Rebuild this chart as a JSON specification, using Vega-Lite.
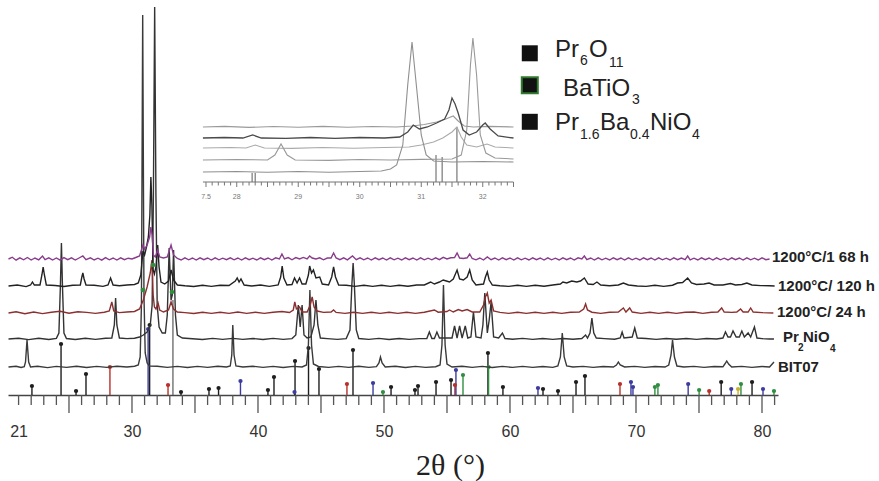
{
"$schema": "https://vega.github.io/schema/vega-lite/v6.json",
"width": 770, "height": 395, "autosize": "none",
"padding": {"left": 8, "right": 101, "top": 0, "bottom": 86},
"background": "white",
"config": {"view": {"stroke": null}},
"datasets": {
"major": [{"x":25},{"x":30},{"x":35},{"x":40},{"x":45},{"x":50},{"x":55},{"x":60},{"x":65},{"x":70},{"x":75},{"x":80}],
"minor": [{"x":21},{"x":22},{"x":23},{"x":24},{"x":26},{"x":27},{"x":28},{"x":29},{"x":31},{"x":32},{"x":33},{"x":34},{"x":36},{"x":37},{"x":38},{"x":39},{"x":41},{"x":42},{"x":43},{"x":44},{"x":46},{"x":47},{"x":48},{"x":49},{"x":51},{"x":52},{"x":53},{"x":54},{"x":56},{"x":57},{"x":58},{"x":59},{"x":61},{"x":62},{"x":63},{"x":64},{"x":66},{"x":67},{"x":68},{"x":69},{"x":71},{"x":72},{"x":73},{"x":74},{"x":76},{"x":77},{"x":78},{"x":79},{"x":81}],
"bit": [{"x":20.2,"y":28},{"x":20.8,"y":28.7},{"x":21.2,"y":27.5},{"x":21.45,"y":28.3},{"x":21.55,"y":33},{"x":21.67,"y":55},{"x":21.8,"y":33},{"x":21.95,"y":28},{"x":22.5,"y":28.8},{"x":23.3,"y":27.4},{"x":24.0,"y":28.6},{"x":24.8,"y":27.6},{"x":25.6,"y":28.7},{"x":26.4,"y":27.5},{"x":27.2,"y":28.6},{"x":28.0,"y":27.6},{"x":28.8,"y":28.7},{"x":29.6,"y":28},{"x":30.2,"y":28.8},{"x":30.5,"y":30},{"x":30.65,"y":38},{"x":30.75,"y":90},{"x":30.85,"y":380},{"x":30.95,"y":100},{"x":31.05,"y":42},{"x":31.2,"y":32},{"x":31.4,"y":29},{"x":32.0,"y":28.7},{"x":32.8,"y":27.6},{"x":33.6,"y":28.6},{"x":34.4,"y":27.5},{"x":35.2,"y":28.6},{"x":36.0,"y":27.6},{"x":36.8,"y":28.7},{"x":37.5,"y":28},{"x":37.8,"y":29},{"x":37.92,"y":40},{"x":38.0,"y":70},{"x":38.1,"y":40},{"x":38.25,"y":29},{"x":38.8,"y":28},{"x":39.6,"y":28.7},{"x":40.4,"y":27.6},{"x":41.2,"y":28.6},{"x":42.0,"y":27.5},{"x":42.8,"y":28.6},{"x":43.5,"y":28},{"x":43.85,"y":30},{"x":44.0,"y":50},{"x":44.12,"y":105},{"x":44.25,"y":50},{"x":44.4,"y":31},{"x":44.8,"y":28.5},{"x":45.6,"y":27.6},{"x":46.4,"y":28.6},{"x":47.2,"y":27.6},{"x":48.0,"y":28.7},{"x":48.8,"y":27.6},{"x":49.4,"y":28.3},{"x":49.6,"y":32},{"x":49.72,"y":38},{"x":49.85,"y":32},{"x":50.1,"y":28},{"x":50.9,"y":28.7},{"x":51.7,"y":27.5},{"x":52.5,"y":28.6},{"x":53.3,"y":27.6},{"x":54.1,"y":28.3},{"x":54.45,"y":30},{"x":54.6,"y":50},{"x":54.72,"y":110},{"x":54.85,"y":50},{"x":55.0,"y":31},{"x":55.4,"y":28},{"x":56.2,"y":28.7},{"x":57.0,"y":27.6},{"x":57.8,"y":28.6},{"x":58.6,"y":27.5},{"x":59.4,"y":28.6},{"x":60.2,"y":27.6},{"x":61.0,"y":28.6},{"x":61.8,"y":27.6},{"x":62.6,"y":28.5},{"x":63.4,"y":27.6},{"x":63.8,"y":29},{"x":64.0,"y":38},{"x":64.15,"y":62},{"x":64.3,"y":38},{"x":64.5,"y":29},{"x":65.0,"y":28},{"x":65.8,"y":28.6},{"x":66.6,"y":27.6},{"x":67.4,"y":28.5},{"x":68.2,"y":28},{"x":68.45,"y":30},{"x":68.6,"y":33},{"x":68.75,"y":30},{"x":69.1,"y":28},{"x":69.9,"y":28.6},{"x":70.7,"y":27.6},{"x":71.5,"y":28.5},{"x":72.3,"y":28},{"x":72.6,"y":30},{"x":72.78,"y":40},{"x":72.9,"y":55},{"x":73.05,"y":38},{"x":73.25,"y":29},{"x":73.8,"y":28},{"x":74.6,"y":28.6},{"x":75.4,"y":27.6},{"x":76.2,"y":28.5},{"x":76.9,"y":28.2},{"x":77.05,"y":31},{"x":77.2,"y":34},{"x":77.35,"y":31},{"x":77.6,"y":28},{"x":78.4,"y":28.6},{"x":79.2,"y":27.6},{"x":80.0,"y":28.5},{"x":80.6,"y":28},{"x":80.95,"y":33}],
"pno": [{"x":20.2,"y":56},{"x":21.0,"y":56.8},{"x":21.8,"y":55.4},{"x":22.6,"y":56.7},{"x":23.4,"y":55.5},{"x":24.0,"y":56.6},{"x":24.2,"y":62},{"x":24.32,"y":110},{"x":24.4,"y":152},{"x":24.48,"y":110},{"x":24.6,"y":62},{"x":24.8,"y":56.5},{"x":25.5,"y":55.5},{"x":26.3,"y":56.7},{"x":27.1,"y":55.6},{"x":27.9,"y":56.7},{"x":28.4,"y":57},{"x":28.6,"y":70},{"x":28.7,"y":97},{"x":28.8,"y":70},{"x":29.0,"y":57},{"x":29.6,"y":56.4},{"x":30.2,"y":56.8},{"x":30.6,"y":58},{"x":30.9,"y":60},{"x":31.2,"y":63},{"x":31.45,"y":70},{"x":31.6,"y":90},{"x":31.7,"y":200},{"x":31.8,"y":388},{"x":31.9,"y":200},{"x":32.0,"y":90},{"x":32.15,"y":68},{"x":32.4,"y":62},{"x":32.65,"y":62},{"x":32.8,"y":80},{"x":32.95,"y":147},{"x":33.1,"y":95},{"x":33.2,"y":100},{"x":33.3,"y":145},{"x":33.45,"y":80},{"x":33.6,"y":60},{"x":34.0,"y":57},{"x":34.8,"y":56.3},{"x":35.6,"y":55.5},{"x":36.4,"y":56.6},{"x":37.2,"y":55.6},{"x":38.0,"y":56.6},{"x":38.8,"y":55.6},{"x":39.6,"y":56.5},{"x":40.4,"y":55.5},{"x":41.2,"y":56.6},{"x":42.0,"y":55.6},{"x":42.7,"y":56.4},{"x":43.0,"y":60},{"x":43.2,"y":90},{"x":43.35,"y":68},{"x":43.5,"y":90},{"x":43.65,"y":60},{"x":43.9,"y":57},{"x":44.2,"y":58},{"x":44.45,"y":70},{"x":44.6,"y":95},{"x":44.75,"y":70},{"x":44.95,"y":57},{"x":45.5,"y":56.4},{"x":46.3,"y":55.6},{"x":47.0,"y":56.4},{"x":47.3,"y":65},{"x":47.45,"y":110},{"x":47.55,"y":132},{"x":47.65,"y":110},{"x":47.8,"y":65},{"x":48.0,"y":56.5},{"x":48.8,"y":55.6},{"x":49.6,"y":56.6},{"x":50.4,"y":55.5},{"x":51.2,"y":56.5},{"x":52.0,"y":55.6},{"x":52.8,"y":56.4},{"x":53.4,"y":56.5},{"x":53.6,"y":63},{"x":53.8,"y":56.5},{"x":54.0,"y":56.5},{"x":54.2,"y":63},{"x":54.4,"y":57},{"x":55.4,"y":57},{"x":55.6,"y":69},{"x":55.8,"y":57},{"x":56.0,"y":69},{"x":56.2,"y":57},{"x":56.45,"y":69},{"x":56.65,"y":57},{"x":56.9,"y":58},{"x":57.1,"y":83},{"x":57.3,"y":58},{"x":57.7,"y":57},{"x":57.85,"y":70},{"x":58.0,"y":102},{"x":58.2,"y":62},{"x":58.35,"y":75},{"x":58.5,"y":93},{"x":58.7,"y":58},{"x":59.1,"y":57},{"x":59.4,"y":62},{"x":59.6,"y":56.5},{"x":60.2,"y":55.7},{"x":61.0,"y":56.6},{"x":61.8,"y":55.6},{"x":62.6,"y":56.5},{"x":63.4,"y":55.6},{"x":64.2,"y":56.5},{"x":65.0,"y":55.7},{"x":65.7,"y":56.5},{"x":66.0,"y":60},{"x":66.15,"y":57},{"x":66.35,"y":62},{"x":66.5,"y":77},{"x":66.65,"y":62},{"x":66.85,"y":57},{"x":67.5,"y":56.4},{"x":68.3,"y":55.7},{"x":68.75,"y":57},{"x":68.9,"y":63},{"x":69.05,"y":57},{"x":69.7,"y":58},{"x":69.9,"y":67},{"x":70.1,"y":57},{"x":70.8,"y":56.5},{"x":71.6,"y":55.6},{"x":72.4,"y":56.5},{"x":73.2,"y":55.7},{"x":74.0,"y":56.5},{"x":74.8,"y":55.6},{"x":75.6,"y":56.5},{"x":76.4,"y":56},{"x":76.9,"y":57},{"x":77.1,"y":63},{"x":77.3,"y":58},{"x":77.5,"y":58},{"x":77.7,"y":64},{"x":77.95,"y":58},{"x":78.2,"y":58},{"x":78.4,"y":64},{"x":78.6,"y":58},{"x":78.9,"y":62},{"x":79.1,"y":58},{"x":79.4,"y":68},{"x":79.6,"y":57},{"x":80.0,"y":56.4},{"x":80.6,"y":56},{"x":80.95,"y":56}],
"t24": [{"x":20.2,"y":82},{"x":20.8,"y":83.2},{"x":21.5,"y":81.3},{"x":22.2,"y":83},{"x":22.9,"y":81.4},{"x":23.6,"y":82.8},{"x":24.3,"y":83.8},{"x":25.0,"y":81.8},{"x":25.7,"y":83.2},{"x":26.4,"y":82.6},{"x":27.1,"y":81.6},{"x":27.8,"y":82.8},{"x":28.2,"y":84},{"x":28.4,"y":93},{"x":28.55,"y":84},{"x":29.0,"y":82.4},{"x":29.6,"y":83},{"x":30.2,"y":83.5},{"x":30.6,"y":86},{"x":30.9,"y":95},{"x":31.2,"y":108},{"x":31.45,"y":122},{"x":31.58,"y":135},{"x":31.68,"y":100},{"x":31.78,"y":88},{"x":31.9,"y":86},{"x":32.07,"y":92},{"x":32.2,"y":85},{"x":32.5,"y":83},{"x":32.9,"y":85},{"x":33.1,"y":93},{"x":33.3,"y":86},{"x":33.6,"y":83},{"x":34.2,"y":82.4},{"x":34.9,"y":81.5},{"x":35.6,"y":82.8},{"x":36.3,"y":81.6},{"x":37.0,"y":82.8},{"x":37.7,"y":81.6},{"x":38.4,"y":83},{"x":39.1,"y":81.6},{"x":39.8,"y":82.8},{"x":40.5,"y":81.6},{"x":41.2,"y":82.8},{"x":41.9,"y":83.5},{"x":42.5,"y":82.5},{"x":42.8,"y":85},{"x":42.92,"y":93},{"x":43.05,"y":86},{"x":43.3,"y":88},{"x":43.5,"y":83},{"x":43.9,"y":83},{"x":44.15,"y":90},{"x":44.3,"y":98},{"x":44.45,"y":88},{"x":44.7,"y":84},{"x":45.2,"y":82.6},{"x":45.8,"y":83},{"x":46.0,"y":85},{"x":46.2,"y":82.6},{"x":46.9,"y":81.6},{"x":47.6,"y":82.8},{"x":48.3,"y":81.6},{"x":49.0,"y":82.8},{"x":49.7,"y":81.6},{"x":50.4,"y":82.8},{"x":51.1,"y":81.6},{"x":51.8,"y":82.8},{"x":52.5,"y":81.6},{"x":53.2,"y":82.8},{"x":54.0,"y":85},{"x":54.3,"y":82.8},{"x":55.0,"y":83.5},{"x":55.2,"y":85},{"x":55.5,"y":83},{"x":55.9,"y":85.5},{"x":56.2,"y":84},{"x":56.6,"y":85.5},{"x":57.0,"y":83},{"x":57.6,"y":83},{"x":57.9,"y":90},{"x":58.05,"y":98},{"x":58.2,"y":102},{"x":58.35,"y":92},{"x":58.5,"y":95},{"x":58.7,"y":84},{"x":59.2,"y":82.6},{"x":59.9,"y":81.6},{"x":60.6,"y":82.8},{"x":61.3,"y":81.6},{"x":62.0,"y":82.8},{"x":62.7,"y":81.6},{"x":63.4,"y":82.8},{"x":64.1,"y":81.6},{"x":64.8,"y":82.8},{"x":65.5,"y":83},{"x":65.85,"y":86},{"x":66.0,"y":91},{"x":66.15,"y":85},{"x":66.5,"y":82.8},{"x":67.2,"y":81.6},{"x":67.9,"y":82.8},{"x":68.6,"y":83},{"x":69.0,"y":87},{"x":69.2,"y":83},{"x":69.5,"y":87},{"x":69.7,"y":83},{"x":70.4,"y":81.6},{"x":71.1,"y":82.8},{"x":71.8,"y":81.6},{"x":72.5,"y":82.8},{"x":73.2,"y":81.6},{"x":73.9,"y":82.8},{"x":74.6,"y":83},{"x":75.3,"y":81.6},{"x":76.0,"y":82.8},{"x":76.5,"y":83},{"x":76.8,"y":87},{"x":77.0,"y":83},{"x":77.6,"y":82.6},{"x":78.0,"y":83},{"x":78.3,"y":86},{"x":78.5,"y":83},{"x":78.9,"y":83},{"x":79.1,"y":87},{"x":79.3,"y":83},{"x":80.0,"y":82.4},{"x":80.9,"y":82}],
"t120": [{"x":20.2,"y":109},{"x":20.9,"y":110},{"x":21.6,"y":108.4},{"x":21.95,"y":110},{"x":22.1,"y":113},{"x":22.25,"y":110},{"x":22.7,"y":110},{"x":22.85,"y":120},{"x":22.95,"y":128},{"x":23.05,"y":120},{"x":23.2,"y":110},{"x":23.9,"y":109.5},{"x":24.6,"y":108.5},{"x":25.3,"y":109.8},{"x":25.9,"y":110},{"x":26.02,"y":118},{"x":26.1,"y":122},{"x":26.2,"y":116},{"x":26.35,"y":110},{"x":27.0,"y":109.8},{"x":27.7,"y":108.6},{"x":28.1,"y":110},{"x":28.3,"y":117},{"x":28.5,"y":110},{"x":29.0,"y":109.2},{"x":29.6,"y":110},{"x":30.2,"y":110.5},{"x":30.5,"y":112},{"x":30.7,"y":120},{"x":30.87,"y":144},{"x":31.0,"y":140},{"x":31.15,"y":148},{"x":31.3,"y":158},{"x":31.42,"y":180},{"x":31.5,"y":218},{"x":31.58,"y":190},{"x":31.68,"y":125},{"x":31.78,"y":121},{"x":31.9,"y":128},{"x":32.04,"y":150},{"x":32.15,"y":128},{"x":32.3,"y":113},{"x":32.6,"y":111},{"x":32.9,"y":114},{"x":33.1,"y":125},{"x":33.3,"y":115},{"x":33.6,"y":110},{"x":34.2,"y":109.2},{"x":34.9,"y":108.5},{"x":35.6,"y":109.8},{"x":36.3,"y":108.6},{"x":37.0,"y":109.8},{"x":37.7,"y":109.5},{"x":38.2,"y":114},{"x":38.35,"y":117},{"x":38.5,"y":113},{"x":38.65,"y":116},{"x":38.9,"y":110},{"x":39.5,"y":109},{"x":40.2,"y":110},{"x":40.9,"y":108.6},{"x":41.6,"y":110},{"x":41.8,"y":118},{"x":41.92,"y":129},{"x":42.05,"y":117},{"x":42.3,"y":110},{"x":42.7,"y":110.5},{"x":42.9,"y":117},{"x":43.1,"y":112},{"x":43.3,"y":117},{"x":43.5,"y":111},{"x":43.8,"y":111},{"x":44.0,"y":120},{"x":44.1,"y":129},{"x":44.25,"y":122},{"x":44.4,"y":125},{"x":44.6,"y":117},{"x":44.9,"y":118},{"x":45.1,"y":111},{"x":45.6,"y":110},{"x":45.85,"y":118},{"x":46.0,"y":128},{"x":46.15,"y":118},{"x":46.4,"y":110},{"x":47.0,"y":109.8},{"x":47.7,"y":108.6},{"x":48.4,"y":109.8},{"x":49.1,"y":108.6},{"x":49.8,"y":109.8},{"x":50.5,"y":108.6},{"x":51.2,"y":109.8},{"x":51.9,"y":108.7},{"x":52.6,"y":110},{"x":53.2,"y":110},{"x":53.7,"y":113},{"x":54.0,"y":111},{"x":54.4,"y":113},{"x":54.7,"y":115},{"x":54.95,"y":114},{"x":55.2,"y":113},{"x":55.5,"y":116},{"x":55.8,"y":125},{"x":56.0,"y":116},{"x":56.3,"y":115},{"x":56.6,"y":118},{"x":56.8,"y":125},{"x":57.0,"y":115},{"x":57.3,"y":110},{"x":57.9,"y":111},{"x":58.05,"y":118},{"x":58.2,"y":123},{"x":58.35,"y":115},{"x":58.6,"y":110},{"x":59.2,"y":109.2},{"x":59.9,"y":108.6},{"x":60.6,"y":109.8},{"x":61.3,"y":108.6},{"x":62.0,"y":109.8},{"x":62.7,"y":108.7},{"x":63.4,"y":110},{"x":64.0,"y":111},{"x":64.2,"y":113},{"x":64.5,"y":112},{"x":64.9,"y":114},{"x":65.3,"y":113},{"x":65.6,"y":114},{"x":65.9,"y":117},{"x":66.2,"y":111},{"x":66.6,"y":110.5},{"x":66.9,"y":113},{"x":67.2,"y":110},{"x":67.9,"y":109.2},{"x":68.6,"y":110},{"x":69.0,"y":112},{"x":69.4,"y":110},{"x":70.1,"y":109},{"x":70.8,"y":108.6},{"x":71.5,"y":109.8},{"x":72.2,"y":108.6},{"x":72.9,"y":109.8},{"x":73.3,"y":112},{"x":73.7,"y":112.5},{"x":74.1,"y":117},{"x":74.4,"y":112},{"x":74.8,"y":110.5},{"x":75.4,"y":111},{"x":75.8,"y":112},{"x":76.2,"y":110},{"x":76.9,"y":110},{"x":77.5,"y":111.5},{"x":77.9,"y":110},{"x":78.4,"y":110.5},{"x":78.8,"y":112},{"x":79.2,"y":110},{"x":79.9,"y":109.4},{"x":80.6,"y":109.2},{"x":81.0,"y":109}],
"t168": [{"x":20.2,"y":136},{"x":20.5,"y":137.8},{"x":20.8,"y":134.8},{"x":21.1,"y":137.2},{"x":21.4,"y":135.2},{"x":21.7,"y":137.5},{"x":22.0,"y":135},{"x":22.3,"y":137},{"x":22.6,"y":135.2},{"x":22.9,"y":139},{"x":23.1,"y":135.3},{"x":23.4,"y":137.2},{"x":23.7,"y":135},{"x":24.0,"y":137},{"x":24.3,"y":134.8},{"x":24.6,"y":137.4},{"x":24.9,"y":135.3},{"x":25.2,"y":137.2},{"x":25.5,"y":135},{"x":25.8,"y":137},{"x":26.1,"y":139},{"x":26.35,"y":135.3},{"x":26.7,"y":137.2},{"x":27.0,"y":135},{"x":27.3,"y":136.8},{"x":27.6,"y":134.8},{"x":27.9,"y":137.4},{"x":28.2,"y":135.2},{"x":28.5,"y":137},{"x":28.8,"y":135},{"x":29.1,"y":137.2},{"x":29.4,"y":135.3},{"x":29.7,"y":136.8},{"x":30.0,"y":136},{"x":30.3,"y":137.5},{"x":30.6,"y":139},{"x":30.87,"y":150},{"x":31.0,"y":146},{"x":31.2,"y":150},{"x":31.4,"y":158},{"x":31.5,"y":168},{"x":31.6,"y":160},{"x":31.7,"y":140},{"x":31.85,"y":138},{"x":32.04,"y":145},{"x":32.2,"y":138},{"x":32.5,"y":137},{"x":32.8,"y":138},{"x":33.1,"y":150},{"x":33.3,"y":140},{"x":33.6,"y":136.5},{"x":33.9,"y":135},{"x":34.2,"y":137.2},{"x":34.5,"y":135.2},{"x":34.8,"y":137},{"x":35.1,"y":135},{"x":35.4,"y":137.2},{"x":35.7,"y":135.3},{"x":36.0,"y":137},{"x":36.3,"y":135},{"x":36.6,"y":137.2},{"x":36.9,"y":135.2},{"x":37.2,"y":136.8},{"x":37.5,"y":135.3},{"x":37.8,"y":137.2},{"x":38.1,"y":135.2},{"x":38.4,"y":137},{"x":38.7,"y":135},{"x":39.0,"y":137.2},{"x":39.3,"y":135.3},{"x":39.6,"y":136.8},{"x":39.9,"y":135},{"x":40.2,"y":137.2},{"x":40.5,"y":135.3},{"x":40.8,"y":137},{"x":41.1,"y":135},{"x":41.4,"y":137.2},{"x":41.7,"y":136},{"x":41.9,"y":141},{"x":42.1,"y":136},{"x":42.4,"y":137.4},{"x":42.7,"y":135.2},{"x":43.0,"y":137.4},{"x":43.3,"y":136},{"x":43.6,"y":137.6},{"x":43.9,"y":136},{"x":44.1,"y":139},{"x":44.3,"y":137},{"x":44.6,"y":136},{"x":44.9,"y":137.2},{"x":45.2,"y":135.2},{"x":45.5,"y":137},{"x":45.8,"y":137},{"x":46.0,"y":142},{"x":46.2,"y":137},{"x":46.5,"y":135.3},{"x":46.8,"y":137.2},{"x":47.1,"y":135.2},{"x":47.5,"y":139},{"x":47.8,"y":135.3},{"x":48.1,"y":137.2},{"x":48.4,"y":135.2},{"x":48.7,"y":137},{"x":49.0,"y":135},{"x":49.3,"y":137.2},{"x":49.6,"y":135.3},{"x":49.9,"y":137},{"x":50.2,"y":135},{"x":50.5,"y":137.2},{"x":50.8,"y":135.2},{"x":51.1,"y":136.8},{"x":51.4,"y":135},{"x":51.7,"y":137.2},{"x":52.0,"y":135.3},{"x":52.3,"y":137},{"x":52.6,"y":135},{"x":52.9,"y":137.2},{"x":53.2,"y":135.2},{"x":53.5,"y":136.8},{"x":53.8,"y":135.2},{"x":54.1,"y":137.2},{"x":54.4,"y":135.4},{"x":54.7,"y":137.6},{"x":55.0,"y":136},{"x":55.3,"y":137.2},{"x":55.6,"y":137.5},{"x":55.8,"y":142},{"x":56.0,"y":137},{"x":56.3,"y":136.5},{"x":56.6,"y":137.2},{"x":56.8,"y":141},{"x":57.0,"y":136.5},{"x":57.3,"y":135.2},{"x":57.6,"y":137},{"x":57.9,"y":135},{"x":58.2,"y":138},{"x":58.5,"y":135.3},{"x":58.8,"y":137},{"x":59.1,"y":135},{"x":59.4,"y":137.2},{"x":59.7,"y":135.3},{"x":60.0,"y":137},{"x":60.3,"y":135},{"x":60.6,"y":137.2},{"x":60.9,"y":135.2},{"x":61.2,"y":136.8},{"x":61.5,"y":135},{"x":61.8,"y":137.2},{"x":62.1,"y":135.3},{"x":62.4,"y":137},{"x":62.7,"y":135},{"x":63.0,"y":137.2},{"x":63.3,"y":135.2},{"x":63.6,"y":136.8},{"x":63.9,"y":135},{"x":64.2,"y":137.2},{"x":64.5,"y":135.3},{"x":64.8,"y":137},{"x":65.1,"y":135},{"x":65.4,"y":137.2},{"x":65.7,"y":136},{"x":65.9,"y":139},{"x":66.1,"y":135.3},{"x":66.4,"y":137},{"x":66.7,"y":135},{"x":67.0,"y":137.2},{"x":67.3,"y":135.2},{"x":67.6,"y":136.8},{"x":67.9,"y":135},{"x":68.2,"y":137.2},{"x":68.5,"y":135.3},{"x":68.8,"y":137},{"x":69.1,"y":135},{"x":69.4,"y":137.2},{"x":69.7,"y":135.2},{"x":70.0,"y":136.8},{"x":70.3,"y":135},{"x":70.6,"y":137.2},{"x":70.9,"y":135.3},{"x":71.2,"y":137},{"x":71.5,"y":135},{"x":71.8,"y":137.2},{"x":72.1,"y":135.2},{"x":72.4,"y":136.8},{"x":72.7,"y":135},{"x":73.0,"y":137.2},{"x":73.3,"y":135.3},{"x":73.6,"y":137},{"x":73.9,"y":135.3},{"x":74.1,"y":139},{"x":74.3,"y":135.2},{"x":74.6,"y":136.8},{"x":74.9,"y":135},{"x":75.2,"y":137.2},{"x":75.5,"y":135.3},{"x":75.8,"y":137},{"x":76.1,"y":135},{"x":76.4,"y":137.2},{"x":76.7,"y":135.2},{"x":77.0,"y":136.8},{"x":77.3,"y":135},{"x":77.6,"y":137.2},{"x":77.9,"y":135.3},{"x":78.2,"y":137},{"x":78.5,"y":135},{"x":78.8,"y":137.2},{"x":79.1,"y":135.2},{"x":79.4,"y":136.8},{"x":79.7,"y":135},{"x":80.0,"y":137.2},{"x":80.3,"y":135.3},{"x":80.6,"y":136}],
"sticks": [{"x":22.06,"h":9,"p":"k"},{"x":24.37,"h":51,"p":"k"},{"x":25.56,"h":4,"p":"k"},{"x":26.35,"h":21,"p":"k"},{"x":28.25,"h":28,"p":"r"},{"x":31.28,"h":66,"p":"b"},{"x":31.4,"h":70,"p":"k"},{"x":32.86,"h":10,"p":"r"},{"x":33.89,"h":3,"p":"k"},{"x":36.11,"h":6,"p":"k"},{"x":36.87,"h":7,"p":"k"},{"x":38.61,"h":14,"p":"b"},{"x":40.79,"h":5,"p":"k"},{"x":41.27,"h":18,"p":"k"},{"x":42.9,"h":3,"p":"b"},{"x":42.94,"h":34,"p":"k"},{"x":44.01,"h":47,"p":"k"},{"x":44.84,"h":26,"p":"k"},{"x":47.06,"h":11,"p":"r"},{"x":47.54,"h":45,"p":"k"},{"x":49.13,"h":12,"p":"b"},{"x":49.92,"h":3,"p":"g"},{"x":50.56,"h":8,"p":"k"},{"x":52.46,"h":5,"p":"k"},{"x":52.7,"h":9,"p":"k"},{"x":54.13,"h":13,"p":"k"},{"x":55.32,"h":15,"p":"k"},{"x":55.63,"h":10,"p":"r"},{"x":55.71,"h":25,"p":"b"},{"x":56.27,"h":20,"p":"g"},{"x":58.25,"h":42,"p":"k"},{"x":58.3,"h":28,"p":"g"},{"x":59.44,"h":8,"p":"k"},{"x":62.22,"h":7,"p":"b"},{"x":62.62,"h":6,"p":"k"},{"x":63.81,"h":4,"p":"k"},{"x":65.24,"h":13,"p":"k"},{"x":65.95,"h":19,"p":"k"},{"x":68.73,"h":11,"p":"r"},{"x":69.6,"h":13,"p":"b"},{"x":69.76,"h":8,"p":"b"},{"x":71.5,"h":8,"p":"g"},{"x":71.74,"h":10,"p":"g"},{"x":74.14,"h":11,"p":"b"},{"x":75.01,"h":5,"p":"g"},{"x":75.81,"h":4,"p":"r"},{"x":76.76,"h":13,"p":"k"},{"x":77.56,"h":6,"p":"b"},{"x":78.1,"h":6,"p":"y"},{"x":78.33,"h":11,"p":"g"},{"x":79.21,"h":13,"p":"k"},{"x":80.08,"h":6,"p":"b"},{"x":80.95,"h":4,"p":"g"}],
"dots": [{"x":30.87,"h":105,"p":"g"},{"x":31.67,"h":130,"p":"g"},{"x":33.17,"h":103,"p":"g"}],
"tall": [{"x":33.25,"h":95}],
"legsq": [{"x":61.571,"y":341.7},{"x":61.571,"y":309.7},{"x":61.571,"y":273.2}],
"legsq2": [{"x":61.571,"y":309.7}],
"legtext": [{"x":63.571,"y":338,"t":"Pr"},{"x":66.27,"y":338,"t":"O"},{"x":64.206,"y":299,"t":"BaTiO"},{"x":63.571,"y":265,"t":"Pr"},{"x":67.143,"y":265,"t":"Ba"},{"x":71.111,"y":265,"t":"NiO"}],
"legsub": [{"x":65.556,"y":330,"t":"6"},{"x":67.857,"y":328,"t":"11"},{"x":69.683,"y":291,"t":"3"},{"x":65.556,"y":256,"t":"1.6"},{"x":69.524,"y":256,"t":"0.4"},{"x":74.444,"y":256,"t":"4"}],
"labels": [{"x":80.79,"y":138,"t":"1200°C/1 68 h"},{"x":81.27,"y":109,"t":"1200°C/ 120 h"},{"x":81.19,"y":83,"t":"1200°C/ 24 h"},{"x":81.667,"y":58,"t":"Pr"},{"x":83.25,"y":58,"t":"NiO"},{"x":81.27,"y":28,"t":"BIT07"}],
"labsub": [{"x":82.86,"y":47,"t":"2"},{"x":85.4,"y":46,"t":"4"}],
"ia": [{"x":27.45,"y":268},{"x":27.8,"y":268.6},{"x":28.2,"y":267.6},{"x":28.6,"y":268.5},{"x":29.0,"y":267.7},{"x":29.4,"y":268.6},{"x":29.8,"y":267.7},{"x":30.2,"y":268.5},{"x":30.6,"y":268},{"x":30.85,"y":269},{"x":31.05,"y":270.5},{"x":31.25,"y":273},{"x":31.4,"y":276},{"x":31.52,"y":279},{"x":31.6,"y":274},{"x":31.7,"y":269},{"x":31.85,"y":268},{"x":32.1,"y":268.6},{"x":32.5,"y":268}],
"ib": [{"x":27.45,"y":257},{"x":27.8,"y":257.5},{"x":28.1,"y":257},{"x":28.26,"y":260},{"x":28.4,"y":257},{"x":28.8,"y":256.6},{"x":29.2,"y":257.5},{"x":29.6,"y":256.7},{"x":30.0,"y":257.5},{"x":30.4,"y":257},{"x":30.65,"y":258},{"x":30.78,"y":263},{"x":30.87,"y":270},{"x":30.97,"y":266},{"x":31.1,"y":268},{"x":31.25,"y":272},{"x":31.38,"y":276},{"x":31.45,"y":285},{"x":31.5,"y":297},{"x":31.55,"y":291},{"x":31.6,"y":282},{"x":31.68,"y":265},{"x":31.78,"y":260},{"x":31.9,"y":263},{"x":32.0,"y":270},{"x":32.04,"y":272},{"x":32.12,"y":266},{"x":32.25,"y":259},{"x":32.5,"y":257}],
"ic": [{"x":27.45,"y":247},{"x":27.9,"y":247.5},{"x":28.15,"y":247},{"x":28.3,"y":250},{"x":28.45,"y":247},{"x":28.9,"y":246.6},{"x":29.4,"y":247.5},{"x":29.9,"y":246.7},{"x":30.4,"y":247.5},{"x":30.8,"y":248},{"x":31.0,"y":250},{"x":31.2,"y":253},{"x":31.35,"y":257},{"x":31.5,"y":263},{"x":31.58,"y":268},{"x":31.65,"y":258},{"x":31.74,"y":250},{"x":31.9,"y":248},{"x":32.07,"y":251},{"x":32.2,"y":248},{"x":32.5,"y":247}],
"id": [{"x":27.45,"y":235},{"x":28.0,"y":235.5},{"x":28.5,"y":235},{"x":28.62,"y":240},{"x":28.72,"y":251},{"x":28.82,"y":240},{"x":28.95,"y":235},{"x":29.5,"y":234.6},{"x":30.0,"y":235.5},{"x":30.5,"y":235},{"x":31.0,"y":235.6},{"x":31.5,"y":236},{"x":31.65,"y":240},{"x":31.74,"y":265},{"x":31.8,"y":330},{"x":31.84,"y":357},{"x":31.9,"y":320},{"x":31.96,"y":260},{"x":32.05,"y":242},{"x":32.2,"y":237},{"x":32.5,"y":236}],
"ie": [{"x":27.45,"y":223},{"x":28.0,"y":223.5},{"x":28.5,"y":222.7},{"x":29.0,"y":223.5},{"x":29.5,"y":222.8},{"x":30.0,"y":223.5},{"x":30.35,"y":224},{"x":30.5,"y":226},{"x":30.6,"y":230},{"x":30.7,"y":250},{"x":30.78,"y":310},{"x":30.85,"y":353},{"x":30.92,"y":310},{"x":31.0,"y":260},{"x":31.08,"y":240},{"x":31.2,"y":234},{"x":31.5,"y":233},{"x":32.0,"y":233.5},{"x":32.5,"y":233}],
"isticks": [{"x":28.25,"h":222},{"x":28.3,"h":222},{"x":31.24,"h":240},{"x":31.34,"h":238},{"x":31.58,"h":268}],
"iaxis": [{"a":27.45,"b":32.5}],
"imajor": [{"x":27.5},{"x":28},{"x":28.5},{"x":29},{"x":29.5},{"x":30},{"x":30.5},{"x":31},{"x":31.5},{"x":32},{"x":32.5}],
"iminor": [{"x":27.6},{"x":27.7},{"x":27.8},{"x":27.9},{"x":28.1},{"x":28.2},{"x":28.3},{"x":28.4},{"x":28.6},{"x":28.7},{"x":28.8},{"x":28.9},{"x":29.1},{"x":29.2},{"x":29.3},{"x":29.4},{"x":29.6},{"x":29.7},{"x":29.8},{"x":29.9},{"x":30.1},{"x":30.2},{"x":30.3},{"x":30.4},{"x":30.6},{"x":30.7},{"x":30.8},{"x":30.9},{"x":31.1},{"x":31.2},{"x":31.3},{"x":31.4},{"x":31.6},{"x":31.7},{"x":31.8},{"x":31.9},{"x":32.1},{"x":32.2},{"x":32.3},{"x":32.4}],
"ilabels": [{"x":27.5,"t":"7.5"},{"x":28,"t":"28"},{"x":29,"t":"29"},{"x":30,"t":"30"},{"x":31,"t":"31"},{"x":32,"t":"32"}]
},
"layer": [
{"data": {"name": "major"}, "mark": {"type": "rule", "color": "#555", "strokeWidth": 1.3},
 "encoding": {"x": {"field": "x", "type": "quantitative", "scale": {"domain": [20.16, 81.27]},
   "axis": {"values": [21,30,40,50,60,70,80], "ticks": false, "tickSize": 0, "grid": false, "labelPadding": 28, "labelFont": "Liberation Sans", "labelFontSize": 16, "labelColor": "#333", "labelFlush": false, "labelBound": false, "labelOverlap": false, "domainColor": "#444", "domainWidth": 1.5,
     "title": "2θ (°)", "titleFont": "Liberation Serif", "titleFontSize": 30, "titleFontWeight": "normal", "titleColor": "#222", "titleX": 442, "titleY": 79, "titleAlign": "center", "titleBaseline": "alphabetic"}},
   "y": {"datum": 0, "type": "quantitative", "scale": {"domain": [0, 395]}, "axis": null}, "y2": {"datum": -18}}},
{"data": {"name": "minor"}, "mark": {"type": "rule", "color": "#555", "strokeWidth": 1.3},
 "encoding": {"x": {"field": "x", "type": "quantitative", "scale": {"domain": [20.16, 81.27]}, "axis": null},
   "y": {"datum": 0, "type": "quantitative", "scale": {"domain": [0, 395]}, "axis": null}, "y2": {"datum": -10}}},
{"data": {"name": "tall"}, "mark": {"type": "rule", "color": "#666", "strokeWidth": 1.3},
 "encoding": {"x": {"field": "x", "type": "quantitative", "scale": {"domain": [20.16, 81.27]}, "axis": null},
   "y": {"field": "h", "type": "quantitative", "scale": {"domain": [0, 395]}, "axis": null}, "y2": {"datum": 0}}},
{"data": {"name": "sticks"}, "mark": {"type": "rule", "strokeWidth": 1.4},
 "encoding": {"x": {"field": "x", "type": "quantitative", "scale": {"domain": [20.16, 81.27]}, "axis": null},
   "y": {"field": "h", "type": "quantitative", "scale": {"domain": [0, 395]}, "axis": null}, "y2": {"datum": 0},
   "color": {"field": "p", "type": "nominal", "legend": null, "scale": {"domain": ["k","r","b","g","v","y"], "range": ["#1e1e1e","#b8302a","#3c3ca0","#2f8f3f","#7b5aa8","#c9b030"]}}}},
{"data": {"name": "sticks"}, "mark": {"type": "point", "filled": true, "size": 18, "opacity": 1},
 "encoding": {"x": {"field": "x", "type": "quantitative", "scale": {"domain": [20.16, 81.27]}, "axis": null},
   "y": {"field": "h", "type": "quantitative", "scale": {"domain": [0, 395]}, "axis": null},
   "color": {"field": "p", "type": "nominal", "legend": null, "scale": {"domain": ["k","r","b","g","v","y"], "range": ["#1e1e1e","#b8302a","#3c3ca0","#2f8f3f","#7b5aa8","#c9b030"]}}}},
{"data": {"name": "bit"}, "mark": {"type": "line", "color": "#3a3a3a", "strokeWidth": 1.4},
 "encoding": {"x": {"field": "x", "type": "quantitative", "scale": {"domain": [20.16, 81.27]}, "axis": null}, "y": {"field": "y", "type": "quantitative", "scale": {"domain": [0, 395]}, "axis": null}}},
{"data": {"name": "pno"}, "mark": {"type": "line", "color": "#333", "strokeWidth": 1.4},
 "encoding": {"x": {"field": "x", "type": "quantitative", "scale": {"domain": [20.16, 81.27]}, "axis": null}, "y": {"field": "y", "type": "quantitative", "scale": {"domain": [0, 395]}, "axis": null}}},
{"data": {"name": "t24"}, "mark": {"type": "line", "color": "#8c2f2f", "strokeWidth": 1.4},
 "encoding": {"x": {"field": "x", "type": "quantitative", "scale": {"domain": [20.16, 81.27]}, "axis": null}, "y": {"field": "y", "type": "quantitative", "scale": {"domain": [0, 395]}, "axis": null}}},
{"data": {"name": "t120"}, "mark": {"type": "line", "color": "#222", "strokeWidth": 1.4},
 "encoding": {"x": {"field": "x", "type": "quantitative", "scale": {"domain": [20.16, 81.27]}, "axis": null}, "y": {"field": "y", "type": "quantitative", "scale": {"domain": [0, 395]}, "axis": null}}},
{"data": {"name": "t168"}, "mark": {"type": "line", "color": "#8a3c8c", "strokeWidth": 1.4},
 "encoding": {"x": {"field": "x", "type": "quantitative", "scale": {"domain": [20.16, 81.27]}, "axis": null}, "y": {"field": "y", "type": "quantitative", "scale": {"domain": [0, 395]}, "axis": null}}},
{"data": {"name": "dots"}, "mark": {"type": "point", "filled": true, "size": 22, "opacity": 1, "color": "#2f8f3f"},
 "encoding": {"x": {"field": "x", "type": "quantitative", "scale": {"domain": [20.16, 81.27]}, "axis": null},
   "y": {"field": "h", "type": "quantitative", "scale": {"domain": [0, 395]}, "axis": null}}},
{"data": {"name": "legsq"}, "mark": {"type": "point", "shape": "square", "filled": true, "size": 256, "color": "#111", "opacity": 1},
 "encoding": {"x": {"field": "x", "type": "quantitative", "scale": {"domain": [20.16, 81.27]}, "axis": null}, "y": {"field": "y", "type": "quantitative", "scale": {"domain": [0, 395]}, "axis": null}}},
{"data": {"name": "legsq2"}, "mark": {"type": "point", "shape": "square", "filled": false, "size": 256, "stroke": "#2f7a2f", "strokeWidth": 2, "opacity": 1},
 "encoding": {"x": {"field": "x", "type": "quantitative", "scale": {"domain": [20.16, 81.27]}, "axis": null}, "y": {"field": "y", "type": "quantitative", "scale": {"domain": [0, 395]}, "axis": null}}},
{"data": {"name": "legtext"}, "mark": {"type": "text", "font": "Liberation Sans", "fontSize": 24, "align": "left", "baseline": "alphabetic", "color": "#222"},
 "encoding": {"x": {"field": "x", "type": "quantitative", "scale": {"domain": [20.16, 81.27]}, "axis": null}, "y": {"field": "y", "type": "quantitative", "scale": {"domain": [0, 395]}, "axis": null}, "text": {"field": "t"}}},
{"data": {"name": "legsub"}, "mark": {"type": "text", "font": "Liberation Sans", "fontSize": 14, "align": "left", "baseline": "alphabetic", "color": "#222"},
 "encoding": {"x": {"field": "x", "type": "quantitative", "scale": {"domain": [20.16, 81.27]}, "axis": null}, "y": {"field": "y", "type": "quantitative", "scale": {"domain": [0, 395]}, "axis": null}, "text": {"field": "t"}}},
{"data": {"name": "labels"}, "mark": {"type": "text", "font": "Liberation Sans", "fontSize": 15, "fontWeight": "bold", "align": "left", "baseline": "middle", "color": "#222"},
 "encoding": {"x": {"field": "x", "type": "quantitative", "scale": {"domain": [20.16, 81.27]}, "axis": null}, "y": {"field": "y", "type": "quantitative", "scale": {"domain": [0, 395]}, "axis": null}, "text": {"field": "t"}}},
{"data": {"name": "labsub"}, "mark": {"type": "text", "font": "Liberation Sans", "fontSize": 10, "fontWeight": "bold", "align": "left", "baseline": "middle", "color": "#222"},
 "encoding": {"x": {"field": "x", "type": "quantitative", "scale": {"domain": [20.16, 81.27]}, "axis": null}, "y": {"field": "y", "type": "quantitative", "scale": {"domain": [0, 395]}, "axis": null}, "text": {"field": "t"}}},
{"data": {"name": "iaxis"}, "mark": {"type": "rule", "color": "#777", "strokeWidth": 1.2},
 "encoding": {"x": {"field": "a", "type": "quantitative", "scale": {"domain": [24.2805, 36.8008]}, "axis": null}, "x2": {"field": "b"},
   "y": {"datum": 213, "type": "quantitative", "scale": {"domain": [0, 395]}, "axis": null}}},
{"data": {"name": "imajor"}, "mark": {"type": "rule", "color": "#777", "strokeWidth": 1},
 "encoding": {"x": {"field": "x", "type": "quantitative", "scale": {"domain": [24.2805, 36.8008]}, "axis": null},
   "y": {"datum": 213, "type": "quantitative", "scale": {"domain": [0, 395]}, "axis": null}, "y2": {"datum": 208}}},
{"data": {"name": "iminor"}, "mark": {"type": "rule", "color": "#777", "strokeWidth": 1},
 "encoding": {"x": {"field": "x", "type": "quantitative", "scale": {"domain": [24.2805, 36.8008]}, "axis": null},
   "y": {"datum": 213, "type": "quantitative", "scale": {"domain": [0, 395]}, "axis": null}, "y2": {"datum": 209.5}}},
{"data": {"name": "ilabels"}, "mark": {"type": "text", "font": "Liberation Sans", "fontSize": 7, "color": "#777", "align": "center", "baseline": "middle"},
 "encoding": {"x": {"field": "x", "type": "quantitative", "scale": {"domain": [24.2805, 36.8008]}, "axis": null},
   "y": {"datum": 198, "type": "quantitative", "scale": {"domain": [0, 395]}, "axis": null}, "text": {"field": "t"}}},
{"data": {"name": "isticks"}, "mark": {"type": "rule", "color": "#777", "strokeWidth": 1.2},
 "encoding": {"x": {"field": "x", "type": "quantitative", "scale": {"domain": [24.2805, 36.8008]}, "axis": null},
   "y": {"field": "h", "type": "quantitative", "scale": {"domain": [0, 395]}, "axis": null}, "y2": {"datum": 213}}},
{"data": {"name": "ia"}, "mark": {"type": "line", "color": "#9a9a9a", "strokeWidth": 1.1},
 "encoding": {"x": {"field": "x", "type": "quantitative", "scale": {"domain": [24.2805, 36.8008]}, "axis": null}, "y": {"field": "y", "type": "quantitative", "scale": {"domain": [0, 395]}, "axis": null}}},
{"data": {"name": "ic"}, "mark": {"type": "line", "color": "#aaaaaa", "strokeWidth": 1.1},
 "encoding": {"x": {"field": "x", "type": "quantitative", "scale": {"domain": [24.2805, 36.8008]}, "axis": null}, "y": {"field": "y", "type": "quantitative", "scale": {"domain": [0, 395]}, "axis": null}}},
{"data": {"name": "id"}, "mark": {"type": "line", "color": "#999999", "strokeWidth": 1.1},
 "encoding": {"x": {"field": "x", "type": "quantitative", "scale": {"domain": [24.2805, 36.8008]}, "axis": null}, "y": {"field": "y", "type": "quantitative", "scale": {"domain": [0, 395]}, "axis": null}}},
{"data": {"name": "ie"}, "mark": {"type": "line", "color": "#8f8f8f", "strokeWidth": 1.1},
 "encoding": {"x": {"field": "x", "type": "quantitative", "scale": {"domain": [24.2805, 36.8008]}, "axis": null}, "y": {"field": "y", "type": "quantitative", "scale": {"domain": [0, 395]}, "axis": null}}},
{"data": {"name": "ib"}, "mark": {"type": "line", "color": "#4a4a4a", "strokeWidth": 1.3},
 "encoding": {"x": {"field": "x", "type": "quantitative", "scale": {"domain": [24.2805, 36.8008]}, "axis": null}, "y": {"field": "y", "type": "quantitative", "scale": {"domain": [0, 395]}, "axis": null}}}
],
"resolve": {"scale": {"x": "independent"}}
}
